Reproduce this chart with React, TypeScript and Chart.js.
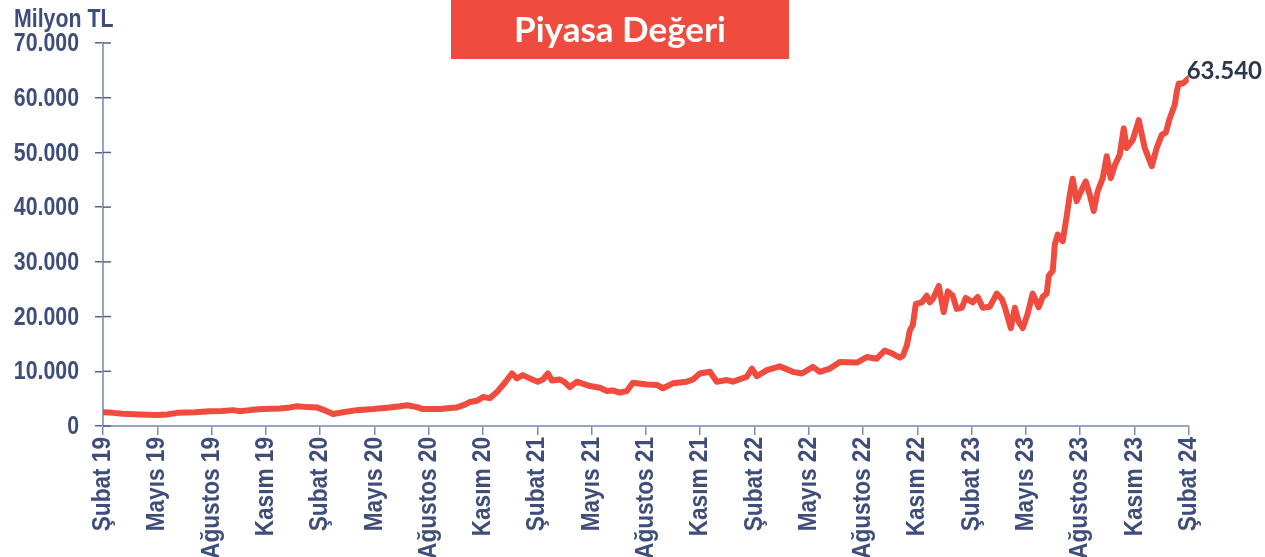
import { useEffect, useRef } from 'react';
import { Chart, registerables } from 'chart.js';

Chart.register(...registerables);

const chartTitle = 'Piyasa Değeri';
const unitLabel = 'Milyon TL';

const tickLabels = [
  'Şubat 19', 'Mayıs 19', 'Ağustos 19', 'Kasım 19',
  'Şubat 20', 'Mayıs 20', 'Ağustos 20', 'Kasım 20',
  'Şubat 21', 'Mayıs 21', 'Ağustos 21', 'Kasım 21',
  'Şubat 22', 'Mayıs 22', 'Ağustos 22', 'Kasım 22',
  'Şubat 23', 'Mayıs 23', 'Ağustos 23', 'Kasım 23',
  'Şubat 24',
];

// months elapsed since Şubat 2019
const monthsSinceStart = [
  0.0, 0.55, 1.1, 2.04, 2.98, 3.54, 4.09, 5.08, 5.91, 6.57, 7.18, 7.57, 8.23, 8.84, 9.78,
  10.33, 10.72, 11.27, 11.82, 12.15, 12.71, 13.26, 14.03, 14.92, 15.86, 16.41, 16.8, 17.29, 17.68,
  18.62, 19.17, 19.56, 20.0, 20.28, 20.66, 21.0, 21.38, 21.77, 22.1, 22.32, 22.6, 22.87, 23.2,
  23.59, 24.03, 24.31, 24.59, 24.81, 25.25, 25.52, 25.8, 26.19, 26.91, 27.46, 27.85, 28.18, 28.56,
  28.95, 29.28, 30.06, 30.61, 30.94, 31.49, 32.27, 32.6, 32.98, 33.54, 33.92, 34.48, 34.81, 35.58,
  35.86, 36.13, 36.69, 37.4, 38.12, 38.62, 39.23, 39.61, 40.17, 40.72, 41.66, 42.21, 42.76, 43.2,
  43.65, 44.03, 44.2, 44.42, 44.59, 44.75, 44.92, 45.25, 45.52, 45.69, 45.86, 46.19, 46.46, 46.69,
  46.96, 47.18, 47.46, 47.68, 48.07, 48.34, 48.62, 49.01, 49.39, 49.67, 49.83, 50.17, 50.39, 50.61,
  50.83, 51.1, 51.38, 51.71, 51.93, 52.15, 52.27, 52.49, 52.6, 52.76, 53.04, 53.26, 53.43, 53.59,
  53.81, 54.09, 54.31, 54.53, 54.75, 54.97, 55.25, 55.47, 55.69, 55.91, 56.19, 56.41, 56.57, 56.91,
  57.24, 57.57, 57.96, 58.23, 58.51, 58.73, 58.95, 59.23, 59.34, 59.45, 59.67, 60.0,
];

// Piyasa değeri, milyon TL
const marketValue = [
  2500, 2400, 2250, 2100, 2000, 2100, 2400, 2500, 2700, 2750, 2900, 2700, 2950, 3100, 3200,
  3400, 3600, 3450, 3400, 3000, 2200, 2500, 2900, 3100, 3400, 3600, 3800, 3500, 3100,
  3100, 3300, 3400, 3900, 4400, 4600, 5300, 5100, 6200, 7500, 8400, 9600, 8700, 9300,
  8700, 8100, 8500, 9600, 8300, 8500, 8000, 7100, 8100, 7300, 7000, 6400, 6500, 6100,
  6400, 7900, 7600, 7500, 6900, 7800, 8100, 8500, 9600, 9900, 8100, 8400, 8100, 9000,
  10500, 9100, 10200, 10900, 9900, 9600, 10800, 9900, 10500, 11700, 11600, 12600, 12300, 13800,
  13200, 12500, 12800, 14700, 17500, 18400, 22300, 22600, 23800, 22600, 23200, 25600, 20800, 24600,
  23800, 21400, 21600, 23400, 22600, 23600, 21600, 21800, 24200, 23200, 21800, 17900, 21600, 19000,
  17900, 20500, 24200, 21700, 23600, 24200, 27500, 28400, 33200, 35000, 33800, 38400, 42300, 45200,
  41100, 43200, 44700, 42300, 39300, 42900, 45300, 49300, 45300, 47600, 49600, 54400, 50800, 52300,
  55900, 50800, 47500, 50800, 53200, 53600, 56200, 58700, 61100, 62600, 62600, 63540,
];

const yMin = 0;
const yMax = 70000;
const yStep = 10000;

const RED = '#EF4B3F';
const LABEL = '#3F4D7B';
const AXIS = '#9AA4BF';
const TICK = '#56627F';
const LABEL_FONT = 'bold 26px "Liberation Sans", Arial, sans-serif';
const Y_NARROW = 0.82; // emulate a narrow bold face
const X_NARROW = 0.87;

function fmt(v: number): string {
  return Math.round(v).toString().replace(/\B(?=(\d{3})+(?!\d))/g, '.');
}

function narrowText(ctx: any, text: string, x: number, y: number, rot: number, align: string, k: number) {
  ctx.save();
  ctx.translate(x, y);
  if (rot) ctx.rotate(rot);
  ctx.scale(k, 1);
  ctx.textAlign = align;
  ctx.fillText(text, 0, 0);
  ctx.restore();
}

const overlayPlugin = {
  id: 'overlay',
  afterDraw(chart: any) {
    const { ctx, chartArea, scales } = chart;
    ctx.save();
    // inner half of y-axis tick marks
    ctx.strokeStyle = TICK;
    ctx.lineWidth = 1.5;
    scales.y.ticks.forEach((t: any) => {
      const y = scales.y.getPixelForValue(t.value);
      ctx.beginPath();
      ctx.moveTo(chartArea.left, y);
      ctx.lineTo(chartArea.left + 8, y);
      ctx.stroke();
    });
    // axis labels
    ctx.fillStyle = LABEL;
    ctx.font = LABEL_FONT;
    ctx.textBaseline = 'middle';
    scales.y.ticks.forEach((t: any) => {
      const y = scales.y.getPixelForValue(t.value);
      narrowText(ctx, fmt(t.value), chartArea.left - 24, y + 1, 0, 'right', Y_NARROW);
    });
    scales.x.ticks.forEach((t: any) => {
      const x = scales.x.getPixelForValue(t.value);
      const label = tickLabels[Math.round(t.value / 3)] ?? '';
      narrowText(ctx, label, x, chartArea.bottom + 11, -Math.PI / 2, 'right', X_NARROW);
    });
    ctx.textBaseline = 'alphabetic';
    narrowText(ctx, unitLabel, 14, 27, 0, 'left', Y_NARROW);
    // title box
    ctx.fillStyle = RED;
    ctx.fillRect(451, 0, 338, 59);
    ctx.fillStyle = '#FFFFFF';
    ctx.font = 'bold 35px Lato, "Open Sans", sans-serif';
    ctx.textAlign = 'center';
    ctx.fillText(chartTitle, 620, 42);
    // last value label
    const meta = chart.getDatasetMeta(0);
    const last = meta.data[meta.data.length - 1];
    ctx.fillStyle = '#2B384C';
    ctx.font = 'bold 24px Lato, "Open Sans", sans-serif';
    ctx.textAlign = 'left';
    ctx.fillText(fmt(marketValue[marketValue.length - 1]), last.x - 2, last.y + 1);
    ctx.restore();
  },
};

export default function App() {
  const canvasRef = useRef<HTMLCanvasElement | null>(null);

  useEffect(() => {
    if (!canvasRef.current) return;
    const points = monthsSinceStart.map((m, i) => ({ x: m, y: marketValue[i] }));
    const chart = new Chart(canvasRef.current, {
      type: 'line',
      data: {
        datasets: [
          {
            data: points,
            borderColor: RED,
            borderWidth: 6,
            pointRadius: 0,
            tension: 0,
            borderJoinStyle: 'round',
            borderCapStyle: 'round',
            fill: false,
          },
        ],
      },
      options: {
        responsive: false,
        animation: false,
        layout: { padding: { top: 43, right: 76.3, left: 0, bottom: 0 } },
        plugins: { legend: { display: false }, tooltip: { enabled: false }, title: { display: false } },
        scales: {
          x: {
            type: 'linear',
            min: 0,
            max: (tickLabels.length - 1) * 3,
            afterFit: (s: any) => { s.height = 131; },
            ticks: { stepSize: 3, autoSkip: false, display: false },
            grid: { drawOnChartArea: false, drawTicks: true, tickLength: 9, color: '#7F8BAA', lineWidth: 1.5 },
            border: { display: true, color: AXIS, width: 2 },
          },
          y: {
            min: yMin,
            max: yMax,
            afterFit: (s: any) => { s.width = 103; },
            ticks: { stepSize: yStep, display: false },
            grid: { drawOnChartArea: false, drawTicks: true, tickLength: 8, color: TICK, lineWidth: 1.5 },
            border: { display: true, color: AXIS, width: 2 },
          },
        },
      },
      plugins: [overlayPlugin],
    });
    return () => chart.destroy();
  }, []);

  return (
    <div style={{ position: 'absolute', left: 0, top: 0, width: 1265, height: 557, background: '#fff' }}>
      <canvas ref={canvasRef} width={1265} height={557} style={{ width: 1265, height: 557 }} />
    </div>
  );
}
